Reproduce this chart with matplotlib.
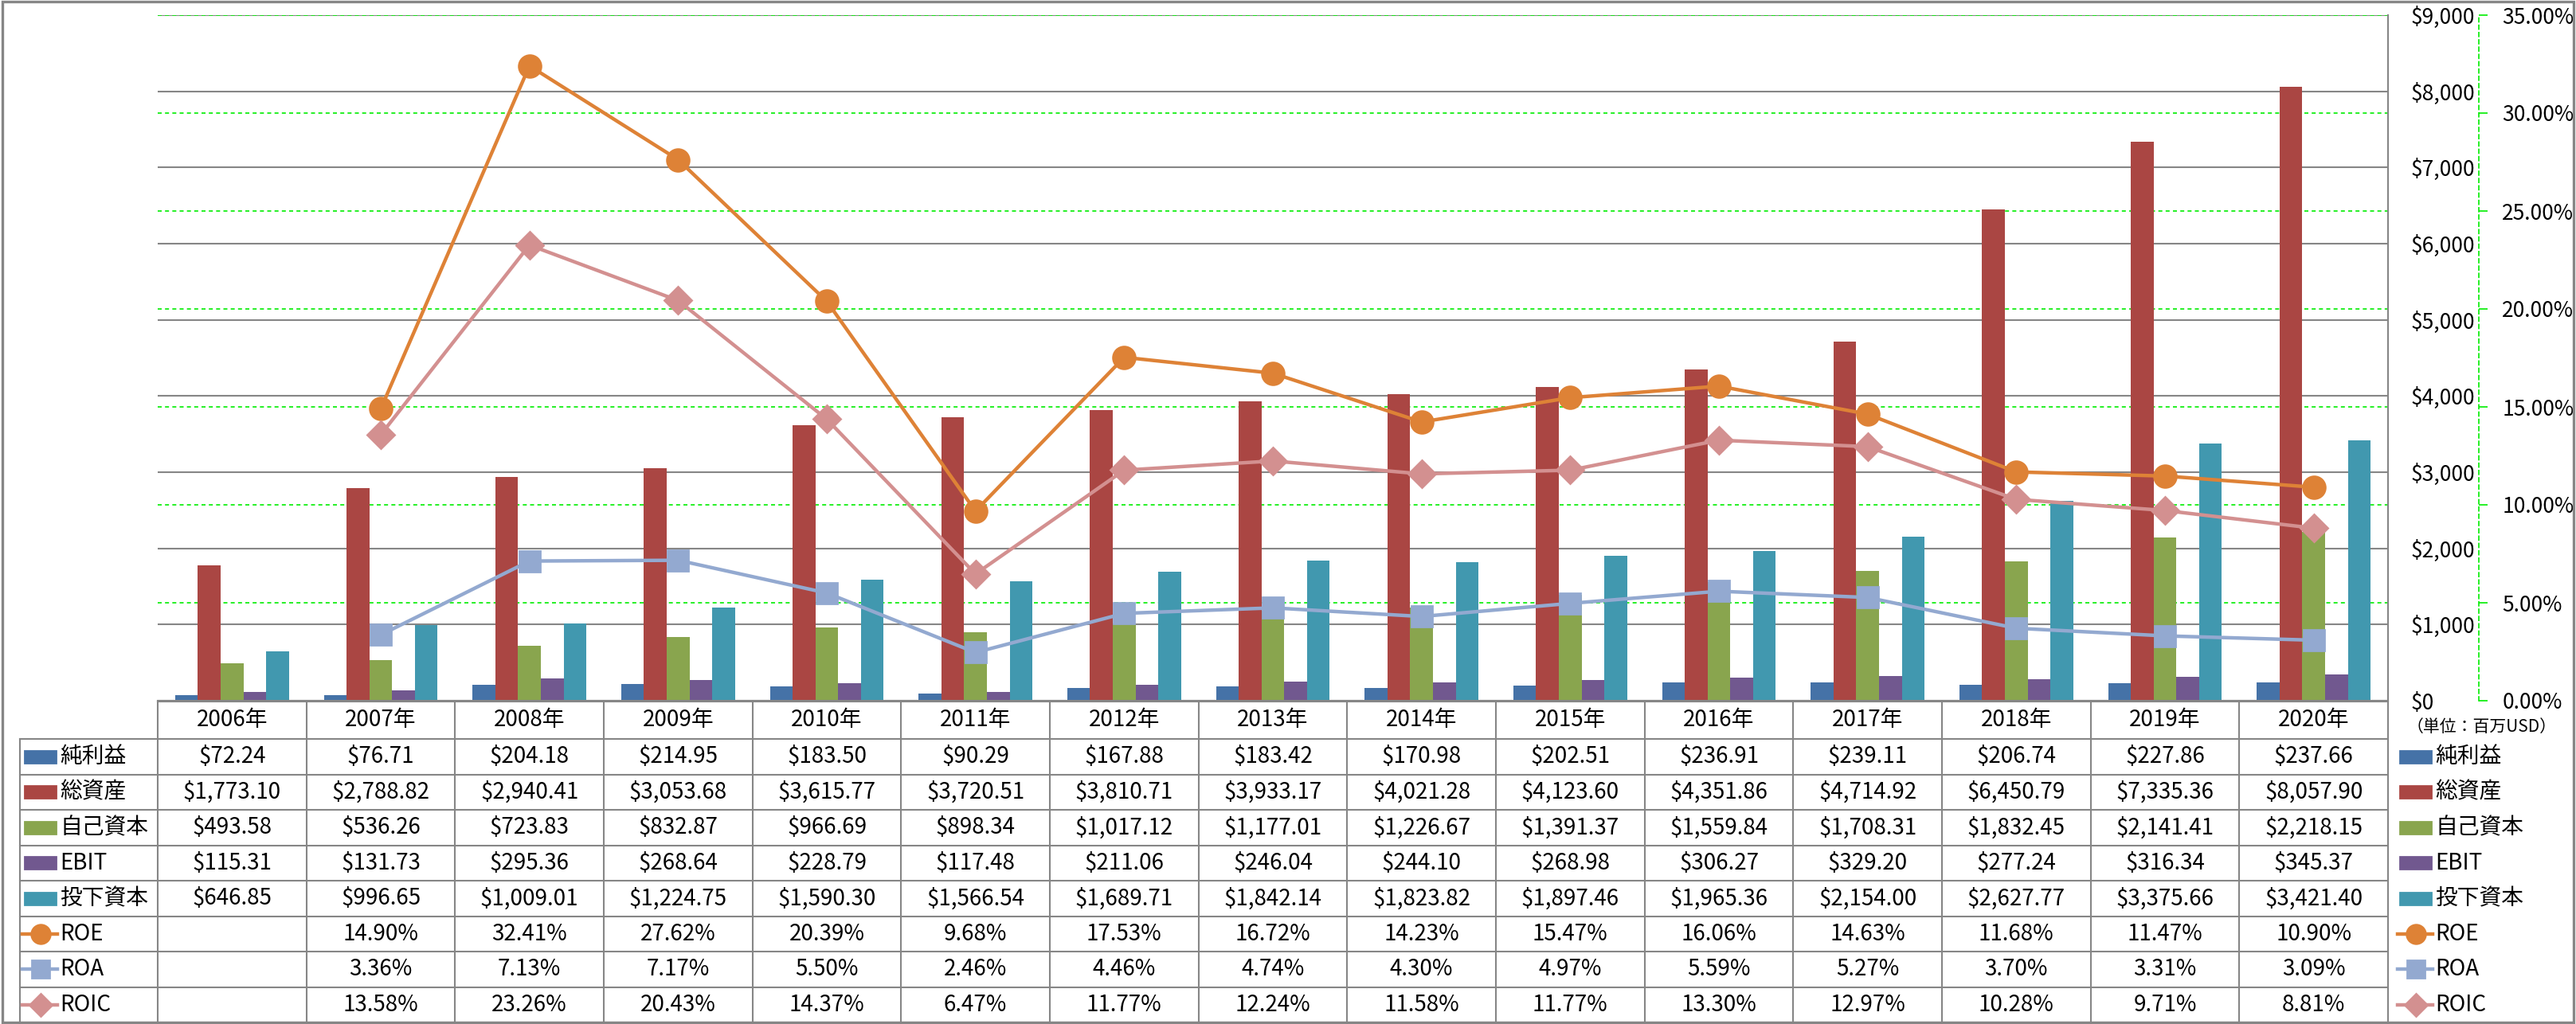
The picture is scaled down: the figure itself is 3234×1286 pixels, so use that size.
import matplotlib
matplotlib.use("Agg")
import matplotlib.pyplot as plt
from matplotlib.patches import Rectangle
from matplotlib.transforms import blended_transform_factory

plt.rcParams["font.family"] = ["Noto Sans CJK JP", "DejaVu Sans"]

# ---- data (百万USD / %) ----
years = ["2006年", "2007年", "2008年", "2009年", "2010年", "2011年", "2012年", "2013年",
         "2014年", "2015年", "2016年", "2017年", "2018年", "2019年", "2020年"]
net_income = [72.24, 76.71, 204.18, 214.95, 183.50, 90.29, 167.88, 183.42, 170.98, 202.51,
              236.91, 239.11, 206.74, 227.86, 237.66]
total_assets = [1773.10, 2788.82, 2940.41, 3053.68, 3615.77, 3720.51, 3810.71, 3933.17, 4021.28,
                4123.60, 4351.86, 4714.92, 6450.79, 7335.36, 8057.90]
equity = [493.58, 536.26, 723.83, 832.87, 966.69, 898.34, 1017.12, 1177.01, 1226.67, 1391.37,
          1559.84, 1708.31, 1832.45, 2141.41, 2218.15]
ebit = [115.31, 131.73, 295.36, 268.64, 228.79, 117.48, 211.06, 246.04, 244.10, 268.98,
        306.27, 329.20, 277.24, 316.34, 345.37]
invested = [646.85, 996.65, 1009.01, 1224.75, 1590.30, 1566.54, 1689.71, 1842.14, 1823.82,
            1897.46, 1965.36, 2154.00, 2627.77, 3375.66, 3421.40]
roe = [None, 14.90, 32.41, 27.62, 20.39, 9.68, 17.53, 16.72, 14.23, 15.47, 16.06, 14.63, 11.68, 11.47, 10.90]
roa = [None, 3.36, 7.13, 7.17, 5.50, 2.46, 4.46, 4.74, 4.30, 4.97, 5.59, 5.27, 3.70, 3.31, 3.09]
roic = [None, 13.58, 23.26, 20.43, 14.37, 6.47, 11.77, 12.24, 11.58, 11.77, 13.30, 12.97, 10.28, 9.71, 8.81]

bar_names = ["純利益", "総資産", "自己資本", "EBIT", "投下資本"]
bar_series = [net_income, total_assets, equity, ebit, invested]
bar_colors = ["#4572A7", "#AA4643", "#89A54E", "#71588F", "#4198AF"]
line_names = ["ROE", "ROA", "ROIC"]
line_series = [roe, roa, roic]
line_colors = ["#DE8236", "#93A9D0", "#D39090"]
line_markers = ["o", "s", "D"]
line_msize = [10, 9.5, 8.5]

usd_ticks = list(range(0, 9001, 1000))
pct_ticks = list(range(0, 36, 5))

# ---- layout in pixels (3234 x 1286) ----
W, H = 3234, 1286
PL, PR, PT, PB = 198, 2998, 19, 880
GRID = "#868686"
GREEN = "#00EE00"
FS = 10

fig = plt.figure(figsize=(W / 200, H / 200), dpi=200)
ax = fig.add_axes([PL / W, (H - PB) / H, (PR - PL) / W, (PB - PT) / H])
ax2 = ax.twinx()

n = len(years)
xs = list(range(n))
bw = 0.153
for k, (vals, c) in enumerate(zip(bar_series, bar_colors)):
    ax.bar([x + (k - 2) * bw for x in xs], vals, width=bw, color=c, zorder=2)

ax.set_xlim(-0.5, n - 0.5)
ax.set_ylim(0, 9000)
ax.set_yticks(usd_ticks)
ax.set_yticklabels([f"${v:,}" for v in usd_ticks])
ax.yaxis.tick_right()
ax.tick_params(axis="y", length=0, pad=10.3, labelsize=9.5)
ax.set_xticks([])
ax.yaxis.grid(True, color=GRID, lw=0.75)
ax.set_axisbelow(True)
for s in ["top", "left"]:
    ax.spines[s].set_visible(False)
for s in ["right", "bottom"]:
    ax.spines[s].set_color(GRID)
    ax.spines[s].set_linewidth(0.75)

# green dashed gridlines of the % axis, kept behind the bars
tr = blended_transform_factory(ax.transAxes, ax2.transData)
for p in pct_ticks:
    ax.plot([0, 1], [p, p], transform=tr, color=GREEN, lw=0.6, ls=(0, (3, 2.5)), zorder=1)

for vals, c, m, ms in zip(line_series, line_colors, line_markers, line_msize):
    px = [x for x, v in zip(xs, vals) if v is not None]
    pv = [v for v in vals if v is not None]
    ax2.plot(px, pv, color=c, lw=1.6, marker=m, markersize=ms, markeredgecolor=c, zorder=3)

ax2.set_ylim(0, 35)
ax2.set_yticks(pct_ticks)
ax2.set_yticklabels([f"{p:.2f}%" for p in pct_ticks])
for s in ["top", "left", "bottom"]:
    ax2.spines[s].set_visible(False)
ax2.spines["right"].set_position(("axes", (3112 - PL) / (PR - PL)))
ax2.spines["right"].set_color(GREEN)
ax2.spines["right"].set_linestyle((0, (3, 2.5)))
ax2.spines["right"].set_linewidth(0.6)
ax2.tick_params(axis="y", direction="out", length=4, width=0.6, color=GREEN, pad=6.5, labelsize=9.5)

# ---- data table + legend (pixel overlay) ----
ov = fig.add_axes([0, 0, 1, 1], facecolor="none")
ov.set_xlim(0, W)
ov.set_ylim(H, 0)
ov.axis("off")

cw = (PR - PL) / n
col_edges = [PL + i * cw for i in range(n + 1)]
hdr_top, row0 = 881, 928
rh = (1284 - row0) / 8
row_edges = [row0 + i * rh for i in range(9)]
lw_t = 0.75

ov.plot([PL, PR], [hdr_top, hdr_top], color=GRID, lw=lw_t)
for x in col_edges:
    ov.plot([x, x], [hdr_top, row_edges[-1]], color=GRID, lw=lw_t)
ov.plot([25, 25], [row0, row_edges[-1]], color=GRID, lw=lw_t)
for y in row_edges:
    ov.plot([25, PR], [y, y], color=GRID, lw=lw_t)

for i, yl in enumerate(years):
    ov.text(PL + (i + 0.5) * cw, (hdr_top + row0) / 2, yl, ha="center", va="center", fontsize=FS)

rows = []
for name, vals, c in zip(bar_names, bar_series, bar_colors):
    rows.append((name, [f"${v:,.2f}" for v in vals], "bar", c, None, None))
for name, vals, c, m, ms in zip(line_names, line_series, line_colors, line_markers, line_msize):
    rows.append((name, ["" if v is None else f"{v:.2f}%" for v in vals], "line", c, m, ms))

for r, (name, texts, kind, c, m, ms) in enumerate(rows):
    yc = row_edges[r] + rh / 2
    for i, t in enumerate(texts):
        ov.text(PL + (i + 0.5) * cw, yc, t, ha="center", va="center", fontsize=FS)
    for x0, x1, tx in [(31, 70, 75), (3013, 3052, 3057)]:
        if kind == "bar":
            ov.add_patch(Rectangle((x0, yc - 7.5), x1 - x0, 15, color=c))
        else:
            ov.plot([x0 - 3, x1 + 2], [yc, yc], color=c, lw=1.6)
            ov.plot([(x0 + x1) / 2], [yc], marker=m, markersize=ms * 0.85, color=c)
        ov.text(tx, yc, name, ha="left", va="center", fontsize=FS)

ov.text(3022, 913, "（単位：百万USD）", ha="left", va="center", fontsize=7.5)

fig.patches.append(Rectangle((0.0008, 0.0015), 0.9984, 0.997, transform=fig.transFigure,
                             fill=False, edgecolor=GRID, lw=1.2))

fig.savefig("out.png", dpi=200)
